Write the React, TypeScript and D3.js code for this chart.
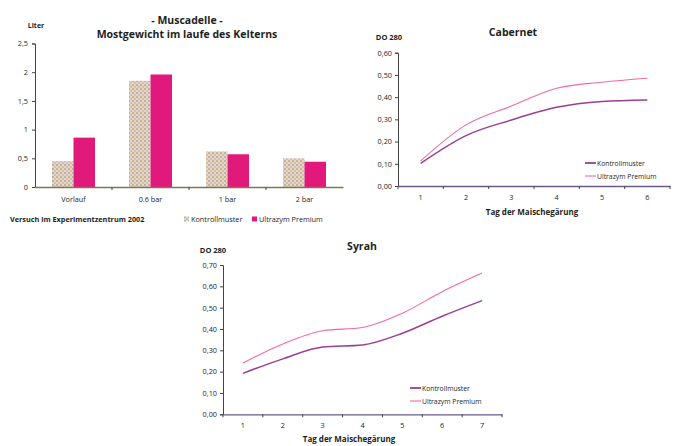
import * as React from 'react';
import {useEffect, useRef} from 'react';
import * as d3 from 'd3';

const stages = ['Vorlauf', '0.6 bar', '1 bar', '2 bar'];
const kontrollLiter = [0.45, 1.85, 0.62, 0.5];
const ultrazymLiter = [0.86, 1.96, 0.57, 0.44];
const literTicks = [0, 0.5, 1, 1.5, 2, 2.5];

const cabernetDays = ['1', '2', '3', '4', '5', '6'];
const cabernetKontroll = [0.102, 0.227, 0.297, 0.354, 0.38, 0.387];
const cabernetUltrazym = [0.113, 0.275, 0.36, 0.44, 0.467, 0.485];
const cabernetTicks = [0, 0.1, 0.2, 0.3, 0.4, 0.5, 0.6];

const syrahDays = ['1', '2', '3', '4', '5', '6', '7'];
const syrahKontroll = [0.192, 0.26, 0.315, 0.325, 0.38, 0.46, 0.533];
const syrahUltrazym = [0.24, 0.33, 0.392, 0.407, 0.474, 0.575, 0.662];
const syrahTicks = [0, 0.1, 0.2, 0.3, 0.4, 0.5, 0.6, 0.7];

const FONT = '"Open Sans", "DejaVu Sans", sans-serif';
const MAGENTA = '#e0197a';
const KONTROLL_LINE = '#9a3f94';
const ULTRA_LINE = '#ee6aa6';
const AXIS = '#444';
const TEXT = '#1e1e1e';

const comma = (digits: number) => (v: number) =>
  digits ? v.toFixed(digits).replace('.', ',') : String(v).replace('.', ',');

type LineOpts = {
  days: string[], kontroll: number[], ultrazym: number[], ticks: number[],
  x0: number, x1: number, y0: number, y1: number, title: string, titleX: number, titleY: number,
  doX: number, doY: number, xLabelX: number, xLabelY: number, legendX: number, legendY: number,
};

function drawLineChart(svg: d3.Selection<SVGSVGElement, unknown, null, undefined>, o: LineOpts) {
  const g = svg.append('g').style('font-family', FONT);
  const x = d3.scaleBand().domain(o.days).range([o.x0, o.x1]);
  const y = d3.scaleLinear().domain([0, o.ticks[o.ticks.length - 1]]).range([o.y0, o.y1]);

  const yAxis = g.append('g').attr('transform', `translate(${o.x0},0)`)
    .call(d3.axisLeft(y).tickValues(o.ticks).tickFormat(comma(2) as any).tickSize(3).tickPadding(3));
  yAxis.selectAll('text').attr('font-size', 7.3).attr('fill', TEXT).style('font-family', FONT);
  yAxis.selectAll('line,path').attr('stroke', AXIS);

  const xAxis = g.append('g').attr('transform', `translate(0,${o.y0})`)
    .call(d3.axisBottom(x).tickSize(0).tickPadding(9));
  xAxis.select('path').attr('stroke', '#6a5a8a').attr('stroke-width', 1.3);
  xAxis.selectAll('text').attr('font-size', 7.3).attr('fill', TEXT).style('font-family', FONT);
  // tick marks between categories
  g.append('g').selectAll('line')
    .data(o.days.map(d => (x(d) as number)).concat([o.x1]))
    .join('line')
    .attr('x1', d => d).attr('x2', d => d)
    .attr('y1', o.y0).attr('y2', o.y0 + 3)
    .attr('stroke', AXIS);

  const line = d3.line<number>()
    .x((_, i) => (x(o.days[i]) as number) + x.bandwidth() / 2)
    .y(d => y(d))
    .curve(d3.curveMonotoneX);

  g.append('path').attr('d', line(o.ultrazym) as string)
    .attr('fill', 'none').attr('stroke', ULTRA_LINE).attr('stroke-width', 1.1);
  g.append('path').attr('d', line(o.kontroll) as string)
    .attr('fill', 'none').attr('stroke', KONTROLL_LINE).attr('stroke-width', 1.5);

  g.append('text').attr('x', o.titleX).attr('y', o.titleY).attr('text-anchor', 'middle')
    .attr('font-size', 10.5).attr('font-weight', 'bold').attr('fill', TEXT).text(o.title);
  g.append('text').attr('x', o.doX).attr('y', o.doY).attr('text-anchor', 'middle')
    .attr('font-size', 7.5).attr('font-weight', 'bold').attr('fill', TEXT).text('DO 280');
  g.append('text').attr('x', o.xLabelX).attr('y', o.xLabelY).attr('text-anchor', 'middle')
    .attr('font-size', 8).attr('font-weight', 'bold').attr('fill', TEXT).text('Tag der Maischegärung');

  const legend = [
    {label: 'Kontrollmuster', color: KONTROLL_LINE, w: 1.8},
    {label: 'Ultrazym Premium', color: ULTRA_LINE, w: 1.1},
  ];
  legend.forEach((l, i) => {
    const ly = o.legendY + i * 13;
    g.append('line').attr('x1', o.legendX).attr('x2', o.legendX + 11).attr('y1', ly).attr('y2', ly)
      .attr('stroke', l.color).attr('stroke-width', l.w);
    g.append('text').attr('x', o.legendX + 12).attr('y', ly + 2.5).attr('font-size', 6.8)
      .attr('fill', TEXT).text(l.label);
  });
}

export default function App() {
  const ref = useRef<SVGSVGElement>(null);

  useEffect(() => {
    const svg = d3.select(ref.current as SVGSVGElement);
    svg.selectAll('*').remove();

    // speckled pattern for the Kontrollmuster bars
    const defs = svg.append('defs');
    const pat = defs.append('pattern').attr('id', 'speckle')
      .attr('patternUnits', 'userSpaceOnUse').attr('width', 4).attr('height', 4);
    pat.append('rect').attr('width', 4).attr('height', 4).attr('fill', '#e3d6c4');
    pat.append('rect').attr('x', 0).attr('y', 0).attr('width', 2).attr('height', 2).attr('fill', '#bdb0b2');
    pat.append('rect').attr('x', 2).attr('y', 2).attr('width', 2).attr('height', 2).attr('fill', '#d4b9c6');
    pat.append('rect').attr('x', 2).attr('y', 0).attr('width', 1).attr('height', 1).attr('fill', '#ebe0a0');

    // ---- Muscadelle bar chart ----
    const g = svg.append('g').style('font-family', FONT);
    const x = d3.scaleBand().domain(stages).range([35, 343]);
    const y = d3.scaleLinear().domain([0, 2.5]).range([187, 43.5]);
    const barW = 21.5;

    const yAxis = g.append('g').attr('transform', 'translate(35,0)')
      .call(d3.axisLeft(y).tickValues(literTicks).tickFormat(comma(0) as any).tickSize(3).tickPadding(4));
    yAxis.selectAll('text').attr('font-size', 7.3).attr('fill', TEXT).style('font-family', FONT);
    yAxis.selectAll('line,path').attr('stroke', AXIS);

    const bars = g.append('g');
    bars.selectAll('rect.k').data(kontrollLiter).join('rect').attr('class', 'k')
      .attr('x', (_, i) => (x(stages[i]) as number) + x.bandwidth() / 2 - barW)
      .attr('y', d => y(d)).attr('width', barW).attr('height', d => y(0) - y(d))
      .attr('fill', 'url(#speckle)');
    bars.selectAll('rect.u').data(ultrazymLiter).join('rect').attr('class', 'u')
      .attr('x', (_, i) => (x(stages[i]) as number) + x.bandwidth() / 2)
      .attr('y', d => y(d)).attr('width', barW).attr('height', d => y(0) - y(d))
      .attr('fill', MAGENTA);

    const xAxis = g.append('g').attr('transform', 'translate(0,187)')
      .call(d3.axisBottom(x).tickSize(0).tickPadding(10));
    xAxis.select('path').attr('stroke', '#7a7a50').attr('stroke-width', 1.3);
    xAxis.selectAll('text').attr('font-size', 7.3).attr('fill', TEXT).style('font-family', FONT);
    g.append('g').selectAll('line')
      .data(stages.slice(1).map(d => x(d) as number))
      .join('line')
      .attr('x1', d => d).attr('x2', d => d).attr('y1', 187).attr('y2', 190)
      .attr('stroke', AXIS);

    g.append('text').attr('x', 187).attr('y', 24).attr('text-anchor', 'middle')
      .attr('font-size', 10.5).attr('font-weight', 'bold').attr('fill', TEXT).text('- Muscadelle -');
    g.append('text').attr('x', 187).attr('y', 37.5).attr('text-anchor', 'middle')
      .attr('font-size', 10.5).attr('font-weight', 'bold').attr('fill', TEXT)
      .text('Mostgewicht im laufe des Kelterns');
    g.append('text').attr('x', 36).attr('y', 28).attr('text-anchor', 'middle')
      .attr('font-size', 7).attr('font-weight', 'bold').attr('fill', TEXT).text('Liter');
    g.append('text').attr('x', 10).attr('y', 222)
      .attr('font-size', 7.3).attr('font-weight', 'bold').attr('fill', TEXT)
      .text('Versuch im Experimentzentrum 2002');

    const barLegend = [
      {label: 'Kontrollmuster', fill: 'url(#speckle)', x: 184},
      {label: 'Ultrazym Premium', fill: MAGENTA, x: 252},
    ];
    barLegend.forEach(l => {
      g.append('rect').attr('x', l.x).attr('y', 216.5).attr('width', 5).attr('height', 5).attr('fill', l.fill);
      g.append('text').attr('x', l.x + 7).attr('y', 222).attr('font-size', 7.3).attr('fill', TEXT).text(l.label);
    });

    // ---- Cabernet ----
    drawLineChart(svg, {
      days: cabernetDays, kontroll: cabernetKontroll, ultrazym: cabernetUltrazym, ticks: cabernetTicks,
      x0: 398, x1: 670, y0: 186, y1: 52.7, title: 'Cabernet', titleX: 513, titleY: 36,
      doX: 389, doY: 40, xLabelX: 532, xLabelY: 215, legendX: 585, legendY: 163,
    });

    // ---- Syrah ----
    drawLineChart(svg, {
      days: syrahDays, kontroll: syrahKontroll, ultrazym: syrahUltrazym, ticks: syrahTicks,
      x0: 223, x1: 502, y0: 414.3, y1: 265, title: 'Syrah', titleX: 362, titleY: 250,
      doX: 213, doY: 253, xLabelX: 349, xLabelY: 442, legendX: 410, legendY: 388,
    });
  }, []);

  return (
    <svg ref={ref} width={673} height={446}
      style={{position: 'absolute', left: 0, top: 0, background: '#fff'}}/>
  );
}
